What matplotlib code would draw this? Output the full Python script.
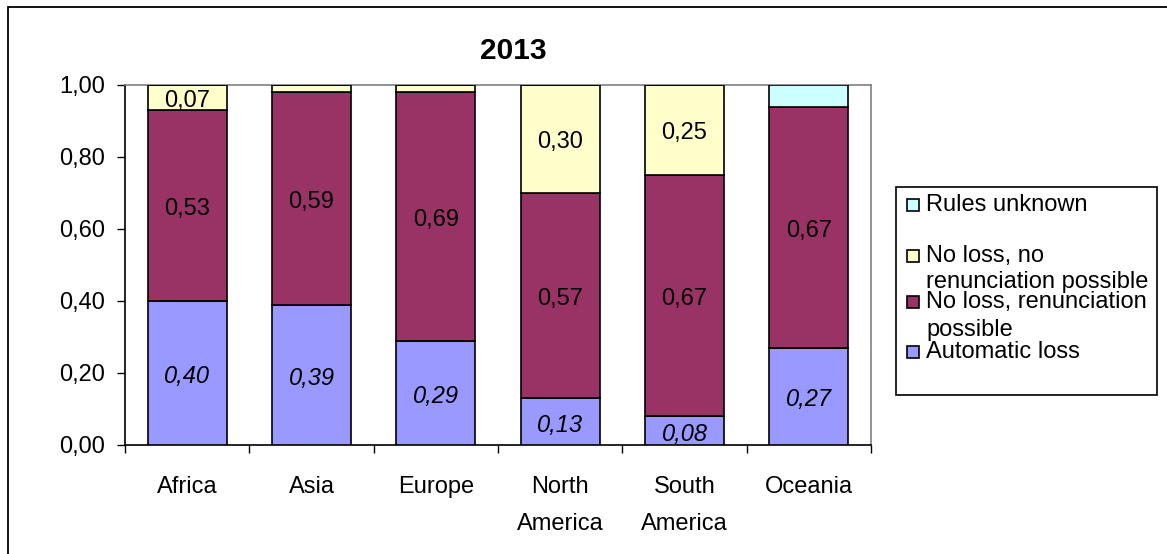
import numpy as np
import matplotlib.pyplot as plt
from matplotlib.patches import Rectangle
from matplotlib.ticker import FixedLocator, FuncFormatter

plt.rcParams['font.family'] = ['Liberation Sans', 'DejaVu Sans']

regions = ['Africa', 'Asia', 'Europe', 'North\nAmerica', 'South\nAmerica', 'Oceania']
automatic_loss = [0.40, 0.39, 0.29, 0.13, 0.08, 0.27]
no_loss_renunciation = [0.53, 0.59, 0.69, 0.57, 0.67, 0.67]
no_loss_no_renunciation = [0.07, 0.02, 0.02, 0.30, 0.25, 0.00]
rules_unknown = [0.00, 0.00, 0.00, 0.00, 0.00, 0.06]

series = [
    ('Automatic loss', automatic_loss, '#9999FF', 'italic', True),
    ('No loss, renunciation\npossible', no_loss_renunciation, '#993366', 'normal', True),
    ('No loss, no\nrenunciation possible', no_loss_no_renunciation, '#FFFFCC', 'normal', True),
    ('Rules unknown', rules_unknown, '#CCFFFF', 'normal', False),
]

FS = 17
W, H = 1167, 554
fig = plt.figure(figsize=(W / 100, H / 100), dpi=100)

# outer chart frame (only top/left edges fall inside the image)
fig.patches.append(Rectangle((8 / W, -0.1), 1.2, 1 - 7 / H + 0.1, transform=fig.transFigure,
                             fill=False, edgecolor='black', linewidth=1.3))

ax = fig.add_axes([125 / W, (H - 445) / H, 746 / W, 360 / H])
x = np.arange(len(regions))
bottom = np.zeros(len(regions))
for name, vals, color, style, labelled in series:
    vals = np.array(vals)
    ax.bar(x, vals, width=0.635, bottom=bottom, color=color, edgecolor='black',
           linewidth=1.2, zorder=3)
    if labelled:
        for xi, b, v in zip(x, bottom, vals):
            if v >= 0.05:
                ax.annotate(f'{v:.2f}'.replace('.', ','), (xi, b + v / 2),
                            xytext=(0, -2.5), textcoords='offset points',
                            ha='center', va='center', fontsize=FS, style=style, zorder=4)
    bottom += vals

ax.set_xlim(-0.5, len(regions) - 0.5)
ax.set_ylim(0, 1)
ax.set_yticks(np.arange(0, 1.01, 0.2))
ax.yaxis.set_major_formatter(FuncFormatter(lambda v, p: f'{v:.2f}'.replace('.', ',')))
ax.set_xticks(x)
ax.set_xticklabels(regions, linespacing=1.9)
ax.xaxis.set_minor_locator(FixedLocator(np.arange(-0.5, len(regions), 1)))
ax.tick_params(axis='x', which='major', length=0, pad=22, labelsize=FS)
ax.tick_params(axis='x', which='minor', length=6, width=1, direction='out')
ax.tick_params(axis='y', length=6, width=1, direction='out', pad=8.4, labelsize=FS)
for s in ['top', 'right']:
    ax.spines[s].set_color('#808080')
    ax.spines[s].set_linewidth(1.2)
for s in ['left', 'bottom']:
    ax.spines[s].set_color('black')
    ax.spines[s].set_linewidth(1.2)

fig.text(513.5 / W, 1 - 51 / H, '2013', ha='center', va='center', fontsize=21.5,
         fontweight='bold')

# legend box, drawn by hand to keep the wrapped entries in place
fig.patches.append(Rectangle((896 / W, 1 - 395 / H), (1157 - 896) / W, (395 - 187) / H,
                             transform=fig.transFigure, fill=False, edgecolor='black',
                             linewidth=1.2))
legend_rows = [
    (series[3], 205, [205]),
    (series[2], 256, [256, 282]),
    (series[1], 302, [302, 330]),
    (series[0], 352, [352]),
]
for (name, vals, color, style, labelled), ysq, ylines in legend_rows:
    fig.patches.append(Rectangle((907 / W, 1 - (ysq + 6) / H), 12 / W, 12 / H,
                                 transform=fig.transFigure, facecolor=color,
                                 edgecolor='black', linewidth=1.2))
    for line, yl in zip(name.split('\n'), ylines):
        fig.text(926 / W, 1 - yl / H, line, ha='left', va='center', fontsize=FS)

fig.savefig('out.png', dpi=100)
